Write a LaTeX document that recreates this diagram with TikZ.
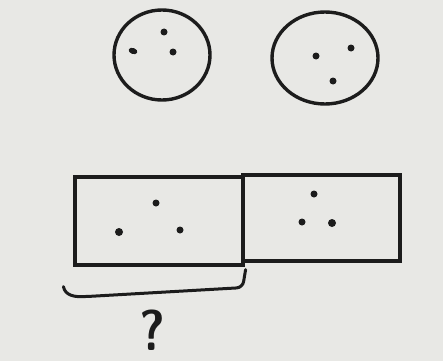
\documentclass[tikz,border=0pt]{standalone}
\usepackage{tikz}
\usetikzlibrary{shapes,arrows,positioning,calc}
\definecolor{paper}{RGB}{232,232,229}
\definecolor{ink}{RGB}{28,28,28}

\tikzset{
    blob/.style={ellipse, draw=ink, line width=3.4pt, inner sep=0pt},
    part/.style={rectangle, draw=ink, line width=3.2pt, inner sep=0pt},
    dot/.style={circle, fill=ink, inner sep=0pt, minimum size=7pt}
}

\begin{document}
\begin{tikzpicture}[x=1pt, y=-1pt]
        \fill[paper] (0,0) rectangle (443,361);
        \useasboundingbox (0,0) rectangle (443,361);

        % the two sets
        \node[blob, minimum width=96pt, minimum height=90pt] (setA) at (162,55) {};
        \node[blob, minimum width=106pt, minimum height=92pt] (setB) at (325,58) {};

        \node[dot] (a1) at (164,32) {};
        \node[dot, ellipse, minimum width=9pt, minimum height=6pt, rotate=-20] (a2) at (133,51) {};
        \node[dot] (a3) at (173,52) {};

        \node[dot] (b1) at (316,56) {};
        \node[dot] (b2) at (351,48) {};
        \node[dot] (b3) at (333,81) {};

        % the bar
        \node[part, minimum width=168pt, minimum height=88pt] (left) at (159,221) {};
        \node[part, minimum width=157pt, minimum height=86pt] (right) at (321.5,218) {};

        \node[dot] (l1) at (156,203) {};
        \node[dot, minimum size=8pt] (l2) at (119,232) {};
        \node[dot] (l3) at (180,230) {};

        \node[dot] (r1) at (314,194) {};
        \node[dot] (r2) at (302,222) {};
        \node[dot, minimum size=8pt] (r3) at (332,223) {};

        % brace under the left part
        \draw[ink, line width=3pt, line cap=round, rounded corners=6pt]
            ($(left.south west)+(-10,20)$) to[out=-80, in=180] ($(left.south west)+(12,30)$)
            -- ($(left.south east)+(-2,21)$) -- ($(left.south east)+(1,3)$);

        \node[ink, font=\fontsize{50}{50}\selectfont\sffamily\bfseries, yscale=1.15] (what) at (152,330) {?};
    \end{tikzpicture}
\end{document}
